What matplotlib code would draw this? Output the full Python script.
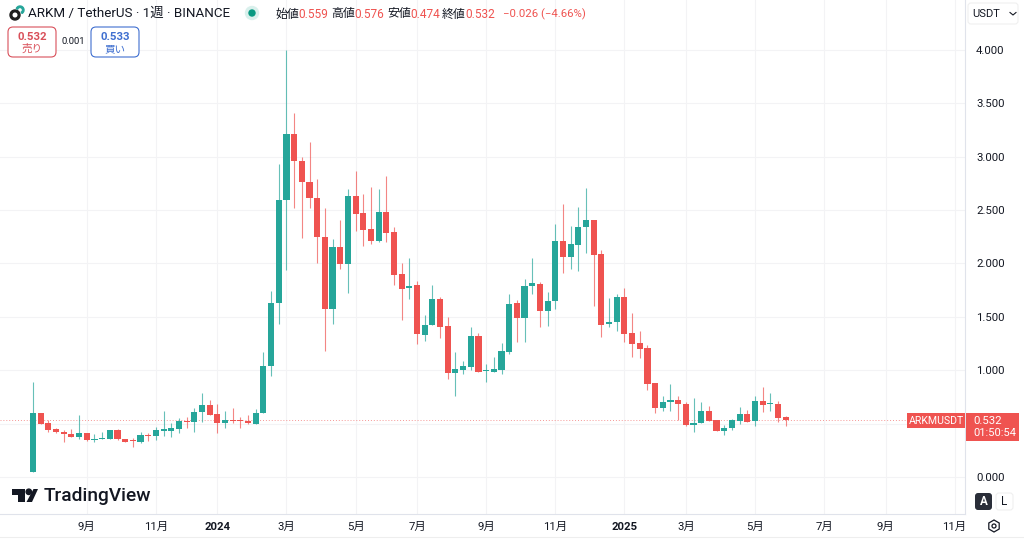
import matplotlib
matplotlib.use("Agg")
import matplotlib.pyplot as plt
from matplotlib.patches import Circle, FancyBboxPatch, Polygon, Rectangle, RegularPolygon, Wedge

plt.rcParams["font.family"] = ["Roboto", "Noto Sans CJK JP", "DejaVu Sans"]

# weekly candles
opens = [0.047, 0.596, 0.503, 0.447, 0.425, 0.403, 0.372, 0.412, 0.343, 0.353,
         0.356, 0.443, 0.359, 0.340, 0.325, 0.393, 0.380, 0.434, 0.434, 0.453,
         0.528, 0.512, 0.606, 0.675, 0.590, 0.506, 0.537, 0.534, 0.525, 0.500,
         0.596, 1.040, 1.633, 2.592, 3.213, 2.963, 2.767, 2.613, 2.251, 1.577,
         2.155, 1.998, 2.635, 2.470, 2.320, 2.208, 2.482, 2.292, 1.899, 1.770,
         1.801, 1.333, 1.421, 1.670, 1.411, 0.971, 1.005, 1.033, 1.324, 0.990,
         0.987, 1.005, 1.174, 1.627, 1.487, 1.789, 1.805, 1.552, 1.646, 2.208,
         2.064, 2.176, 2.342, 2.410, 2.089, 1.430, 1.455, 1.689, 1.346, 1.252,
         1.208, 0.878, 0.643, 0.700, 0.721, 0.687, 0.487, 0.503, 0.621, 0.531,
         0.428, 0.459, 0.522, 0.590, 0.522, 0.715, 0.680, 0.681, 0.559]
closes = [0.597, 0.500, 0.440, 0.420, 0.406, 0.375, 0.412, 0.343, 0.359, 0.359,
          0.440, 0.353, 0.331, 0.334, 0.390, 0.380, 0.437, 0.440, 0.456, 0.525,
          0.512, 0.606, 0.675, 0.584, 0.506, 0.537, 0.525, 0.521, 0.503, 0.600,
          1.043, 1.633, 2.595, 3.213, 2.960, 2.760, 2.610, 2.251, 1.577, 2.155,
          1.995, 2.635, 2.464, 2.314, 2.208, 2.482, 2.289, 1.895, 1.761, 1.792,
          1.337, 1.424, 1.667, 1.408, 0.971, 1.009, 1.037, 1.324, 0.987, 0.995,
          1.009, 1.180, 1.620, 1.487, 1.792, 1.814, 1.552, 1.649, 2.208, 2.064,
          2.180, 2.345, 2.408, 2.083, 1.427, 1.455, 1.689, 1.343, 1.249, 1.202,
          0.871, 0.643, 0.700, 0.721, 0.684, 0.487, 0.503, 0.621, 0.527, 0.434,
          0.462, 0.531, 0.590, 0.518, 0.715, 0.674, 0.686, 0.550, 0.532]
highs = [0.893, 0.596, 0.530, 0.456, 0.440, 0.447, 0.580, 0.412, 0.403, 0.420,
         0.440, 0.450, 0.359, 0.362, 0.418, 0.409, 0.470, 0.618, 0.503, 0.556,
         0.565, 0.650, 0.784, 0.718, 0.684, 0.621, 0.646, 0.565, 0.584, 0.634,
         1.171, 1.745, 2.932, 4.000, 3.407, 3.000, 3.135, 2.789, 2.517, 2.227,
         2.408, 2.695, 2.869, 2.651, 2.720, 2.698, 2.820, 2.339, 2.000, 2.054,
         1.839, 1.515, 1.799, 1.683, 1.502, 1.168, 1.090, 1.408, 1.352, 1.055,
         1.121, 1.252, 1.714, 1.658, 1.852, 2.048, 1.830, 1.730, 2.367, 2.557,
         2.351, 2.532, 2.704, 2.410, 2.127, 1.674, 1.714, 1.767, 1.533, 1.371,
         1.233, 0.878, 0.759, 0.871, 0.762, 0.700, 0.737, 0.703, 0.665, 0.531,
         0.487, 0.540, 0.659, 0.625, 0.762, 0.846, 0.787, 0.709, 0.576]
lows = [0.047, 0.500, 0.425, 0.415, 0.330, 0.372, 0.360, 0.337, 0.331, 0.353,
        0.353, 0.350, 0.331, 0.284, 0.322, 0.340, 0.343, 0.384, 0.375, 0.412,
        0.459, 0.425, 0.512, 0.581, 0.409, 0.459, 0.503, 0.456, 0.500, 0.497,
        0.596, 0.949, 1.433, 1.939, 2.517, 2.236, 2.523, 2.000, 1.183, 1.433,
        1.945, 1.726, 2.307, 2.167, 2.180, 2.200, 2.201, 1.796, 1.468, 1.665,
        1.246, 1.274, 1.421, 1.299, 0.918, 0.759, 0.962, 1.002, 0.987, 0.893,
        0.987, 0.962, 1.155, 1.267, 1.267, 1.711, 1.408, 1.417, 1.577, 1.908,
        1.948, 1.933, 2.095, 1.602, 1.314, 1.402, 1.371, 1.265, 1.121, 1.112,
        0.815, 0.597, 0.621, 0.618, 0.534, 0.481, 0.424, 0.503, 0.527, 0.431,
        0.393, 0.440, 0.496, 0.518, 0.481, 0.609, 0.618, 0.518, 0.474]

last_price = 0.532
price_ticks = [0.0, 0.5, 1.0, 1.5, 2.0, 2.5, 3.0, 3.5, 4.0]
# 0.500 sits under the last price tag, so it has no label
price_labels = ["0.000", "", "1.000", "1.500", "2.000", "2.500", "3.000", "3.500", "4.000"]
date_ticks = [7, 16, 24, 33, 42, 50, 59, 68, 77, 85, 94, 103, 111, 120]
date_labels = ["9月", "11月", "2024", "3月", "5月", "7月", "9月", "11月", "2025",
               "3月", "5月", "7月", "9月", "11月"]

GREEN = "#26a69a"
RED = "#ef5350"
TEXT = "#131722"
GRID = "#f3f3f5"
BORDER = "#e0e3eb"

fig = plt.figure(figsize=(10.24, 5.39), dpi=100, facecolor="white")
W, H = 1024, 539

# price pane, 0-965 px wide and down to y=514
ax = fig.add_axes([0, (H - 514) / H, 965 / W, 514 / H])
ax.set_xlim(-4.3, 121.35)
ax.set_ylim(-0.3466, 4.468)
ax.set_facecolor("white")
for s in ["top", "left"]:
    ax.spines[s].set_visible(False)
ax.spines["right"].set_color(BORDER)
ax.spines["bottom"].set_color(BORDER)
ax.spines["right"].set_linewidth(0.8)
ax.spines["bottom"].set_linewidth(0.8)

ax.set_axisbelow(True)
ax.grid(True, color=GRID, linewidth=0.8)
ax.yaxis.tick_right()
ax.set_yticks(price_ticks)
ax.set_yticklabels(price_labels)
ax.set_xticks(date_ticks)
ax.set_xticklabels(date_labels)
ax.tick_params(axis="both", length=0, labelsize=8.2, labelcolor=TEXT)
ax.tick_params(axis="y", pad=8)
ax.tick_params(axis="x", pad=6)
for lab in ax.get_xticklabels():
    if lab.get_text() in ("2024", "2025"):
        lab.set_fontweight("bold")

ax.axhline(last_price, color=RED, linewidth=0.7, linestyle=(0, (1, 2)), alpha=0.6, zorder=1)

# candles
for i in range(len(opens)):
    col = GREEN if closes[i] >= opens[i] else RED
    ax.vlines(i, lows[i], highs[i], color=col, linewidth=0.8, alpha=0.7, zorder=2)
    bottom = min(opens[i], closes[i])
    height = max(abs(closes[i] - opens[i]), 0.012)
    ax.bar(i, height, bottom=bottom, width=0.8, color=col, linewidth=0, zorder=3)

# overlay in pixel coordinates for the TradingView furniture
ov = fig.add_axes([0, 0, 1, 1], facecolor="none")
ov.set_xlim(0, W)
ov.set_ylim(H, 0)
ov.axis("off")

ov.plot([0, W], [537, 537], color="#eeeeee", linewidth=0.8)

# symbol icon
ov.add_patch(Circle((15, 15), 5, color="#1c1c1c"))
ov.add_patch(Circle((15, 15), 1.8, color="white"))
ov.add_patch(Wedge((20, 10), 4, 200, 60, width=1.5, color=GREEN))

ov.text(28, 13.5, "ARKM / TetherUS · 1週 · BINANCE", fontsize=9.6, color=TEXT, va="center")

# market status dot
ov.add_patch(Circle((252, 13), 6.5, color="#d9f0ec"))
ov.add_patch(Circle((252, 13), 3, color="#089981"))

# OHLC header
header = [("始値", 275, "0.559", 298), ("高値", 331, "0.576", 354),
          ("安値", 387, "0.474", 410), ("終値", 442, "0.532", 465)]
for name, x1, val, x2 in header:
    ov.text(x1, 14, name, fontsize=8.6, color=TEXT, va="center")
    ov.text(x2, 14, val, fontsize=8.6, color=RED, va="center")
ov.text(503, 14, "−0.026 (−4.66%)", fontsize=8.2, color=RED, va="center")

# sell / buy boxes
for x0, col, price, lab in [(8, "#d9505a", "0.532", "売り"), (91, "#3f6fd0", "0.533", "買い")]:
    ov.add_patch(FancyBboxPatch((x0, 27), 48, 30, boxstyle="round,pad=0,rounding_size=5",
                                facecolor="white", edgecolor=col, linewidth=0.8, zorder=3))
    ov.text(x0 + 24, 36.5, price, fontsize=8.2, fontweight="bold", color=col, ha="center", va="center", zorder=4)
    ov.text(x0 + 24, 49, lab, fontsize=7.6, color=col, ha="center", va="center", zorder=4)
ov.text(73, 41.5, "0.001", fontsize=6.8, color=TEXT, ha="center", va="center")

# currency dropdown
ov.add_patch(FancyBboxPatch((968, 3), 50, 21, boxstyle="round,pad=0,rounding_size=3",
                            facecolor="white", edgecolor="#f0f0f0", linewidth=0.8))
ov.text(972, 14, "USDT", fontsize=8, color=TEXT, va="center")
ov.plot([1010, 1013, 1016], [12.5, 15, 12.5], color=TEXT, linewidth=0.8)

# last price tags
ov.add_patch(Rectangle((907, 413), 58, 15, color=RED, linewidth=0))
ov.text(936, 420.5, "ARKMUSDT", fontsize=7.6, color="white", ha="center", va="center")
ov.add_patch(Rectangle((966, 413), 52.5, 28, color=RED, linewidth=0))
ov.text(973, 420.5, "0.532", fontsize=8.2, color="white", va="center")
ov.text(973, 433.5, "01:50:54", fontsize=8, color="white", va="center")

# auto / log buttons
ov.add_patch(FancyBboxPatch((975, 493), 17, 17, boxstyle="round,pad=0,rounding_size=3",
                            facecolor="#2a2e39", edgecolor="none"))
ov.text(983.5, 501.5, "A", fontsize=8.4, color="white", ha="center", va="center", fontweight="bold")
ov.add_patch(FancyBboxPatch((996, 493), 17, 17, boxstyle="round,pad=0,rounding_size=3",
                            facecolor="white", edgecolor="#f0f0f0", linewidth=0.8))
ov.text(1004.5, 501.5, "L", fontsize=8.4, color=TEXT, ha="center", va="center")

# settings icon
ov.add_patch(RegularPolygon((994, 526), 6, radius=6, orientation=0, facecolor="none",
                            edgecolor=TEXT, linewidth=0.9))
ov.add_patch(Circle((994, 526), 2, facecolor="none", edgecolor=TEXT, linewidth=0.9))

# TradingView logo
ov.add_patch(Polygon([(12, 489), (24.5, 489), (24.5, 502), (18, 502), (18, 495), (12, 495)], color="#131722", linewidth=0))
ov.add_patch(Circle((28.8, 491.8), 2.7, color="#131722"))
ov.add_patch(Polygon([(38, 489), (32, 502), (26.5, 502), (33.5, 489)], color="#131722", linewidth=0))
ov.text(44, 496, "TradingView", fontsize=13.8, fontweight="medium", color="#131722", va="center")

fig.savefig("out.png", dpi=100)
